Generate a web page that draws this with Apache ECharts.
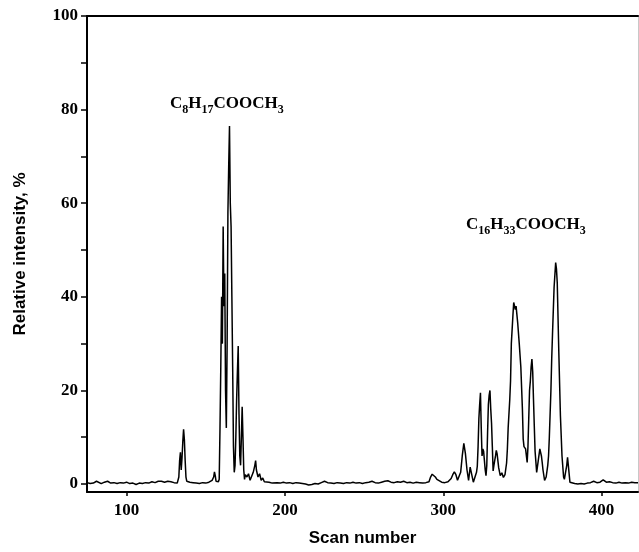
<!DOCTYPE html>
<html>
<head>
<meta charset="utf-8">
<script src="https://cdn.jsdelivr.net/npm/echarts@6/dist/echarts.min.js"></script>
<style>
  html, body { margin: 0; padding: 0; background: #fff; }
  #container { width: 639px; height: 552px; }
</style>
</head>
<body>
<div id="container"></div>
<script>
// scan numbers and relative intensity (%)
const scans = [
  75, 77, 79, 81, 82, 84, 86, 88, 90, 92, 94, 96, 98, 100, 102, 104, 106, 108, 110, 112,
  114, 116, 118, 120, 121, 122, 124, 126, 127, 128, 130, 131, 132,
  133, 133.5, 134, 134.5, 135, 135.5, 136, 136.5, 137, 137.5, 138, 139, 140, 141, 142, 144,
  146, 148, 150, 152, 153, 154, 155, 155.5, 156, 156.5, 157, 158, 158.5,
  159, 159.5, 160, 160.5, 161, 161.5, 162, 162.5, 163, 163.5, 164, 164.5, 165, 165.5, 166,
  166.5, 167, 167.5, 168, 168.5, 169, 169.5, 170, 170.5, 171, 171.5, 172, 172.5, 173, 173.5,
  174, 174.5, 175, 176, 177, 178, 179, 180, 181, 181.5, 182, 183, 184, 185, 186, 187, 188,
  190, 192, 193, 195, 197, 199, 201, 203, 205, 207, 209, 211, 213, 215, 217, 219, 221, 223,
  225, 227, 229, 231, 233, 235, 237, 239, 241, 243, 245, 247, 249, 251, 253, 255, 257, 259,
  261, 263, 265, 267, 269, 271, 273, 275, 277, 279, 281, 283, 285, 287, 289, 291, 292, 293,
  294, 295, 296, 297, 299, 301, 303, 305, 306, 307, 308, 309, 310, 311, 312, 313, 314, 315,
  316, 317, 318, 319, 320, 321, 321.5, 322, 322.5, 323, 323.5, 324, 324.5, 325, 325.5, 326,
  326.5, 327, 327.5, 328, 328.5, 329, 329.5, 330, 330.5, 331, 331.5, 332, 333, 333.5, 334,
  335, 336, 337, 338, 338.5, 339, 340, 340.5, 341, 342, 342.5, 343, 344, 344.5, 345, 345.5,
  346, 347, 348, 349, 350, 350.5, 351, 352, 353, 353.5, 354, 354.5, 355, 355.5, 356, 356.5,
  357, 357.5, 358, 359, 360, 361, 362, 362.5, 363, 364, 364.5, 365, 366, 366.5, 367, 368,
  368.5, 369, 370, 371, 371.5, 372, 373, 374, 375, 376, 376.5, 377, 378, 378.5, 379, 380,
  381, 383, 385, 387, 389, 391, 393, 395, 397, 399, 401, 403, 405, 407, 409, 411, 413, 415,
  417, 419, 421, 423
];
const intensity = [
  0.3, 0.1, 0.2, 0.6, 0.3, 0.1, 0.4, 0.6, 0.2, 0.3, 0.1, 0.3, 0.2, 0.4, 0.1, 0.2, -0.1, 0.2, 0.1, 0.3,
  0.2, 0.5, 0.3, 0.6, 0.3, 0.6, 0.4, 0.6, 0.3, 0.5, 0.3, 0.4, 0.2,
  1.5, 5.0, 6.8, 3.0, 5.5, 9.0, 11.7, 9.5, 5.0, 1.5, 0.6, 0.3, 0.4, 0.8, 0.3, 0.2,
  0.1, 0.3, 0.2, 0.4, 0.3, 0.8, 1.5, 2.6, 1.8, 0.6, 0.4, 0.5, 1.0,
  12, 25, 40, 30, 55, 38, 45, 20, 12, 30, 58, 68, 76.5, 60, 55,
  40, 25, 8, 2.5, 4, 10, 18, 24, 29.5, 15, 6, 4, 10, 16.5, 10,
  3, 1, 2, 1.5, 2.2, 0.8, 1.2, 2.5, 4, 5, 3, 1.5, 2.2, 0.8, 1.3, 0.5, 0.3,
  0.4, 0.2, 0.5, 0.3, 0.2, 0.4, 0.2, 0.3, 0.1, 0.3, 0.2, 0.1, 0.0, -0.2, -0.1, 0.1, 0.0, 0.3,
  0.6, 0.3, 0.2, 0.1, 0.3, 0.2, 0.1, 0.3, 0.2, 0.4, 0.2, 0.3, 0.1, 0.3, 0.4, 0.6, 0.3, 0.2,
  0.4, 0.6, 0.7, 0.4, 0.3, 0.5, 0.4, 0.6, 0.3, 0.4, 0.2, 0.4, 0.3, 0.2, 0.3, 0.5, 1.5, 2.1,
  1.8, 1.5, 1.0, 0.6, 0.4, 0.3, 0.5, 1.2, 2.0, 2.6, 2.0, 0.8, 0.6, 2.5, 6.0, 8.7, 6.5, 3.0,
  0.8, 3.6, 2.0, 0.4, 0.6, 2.5, 3.8, 8, 14, 17, 19.5, 12, 6, 7.5, 7.0, 5,
  3, 1.8, 4, 11, 17, 19, 20, 16, 13, 8, 2.8, 4, 6, 7.2, 6.5,
  3.5, 1.8, 2.4, 1.4, 1.2, 2, 4.5, 7.5, 12, 18, 22, 30, 36, 38.8, 38.5, 37.3,
  38, 34.5, 30, 25, 16, 9.6, 8, 7.5, 4.6, 8, 14, 20, 22, 25, 26.7, 24,
  18, 12.4, 7, 2.5, 5, 7.5, 6, 4.6, 3, 0.8, 0.4, 1.5, 4, 6, 10, 20,
  26.7, 32, 42, 47.3, 46, 43, 28, 14.6, 6, 1.5, 1.0, 2, 4, 5.7, 4, 0.4,
  0.2, 0.1, 0.0, 0.1, 0.0, 0.2, 0.3, 0.6, 0.3, 0.4, 0.9, 0.4, 0.5, 0.3, 0.2, 0.4, 0.2, 0.3,
  0.2, 0.4, 0.3, 0.3
];
const xTicks = [100, 200, 300, 400];
const yMinorTicks = [0, 10, 20, 30, 40, 50, 60, 70, 80, 90, 100];
const yLabels = [0, 20, 40, 60, 80, 100];

const serif = '"Liberation Serif", "Times New Roman", serif';
const sans = '"Liberation Sans", Arial, sans-serif';

const chart = echarts.init(document.getElementById('container'));

const tickFont = {
  color: '#000',
  fontFamily: serif,
  fontWeight: 'bold',
  fontSize: 17
};

const formula = (parts) => parts.map(p => typeof p === 'string' ? '{m|' + p + '}' : '{s|' + p[0] + '}').join('');
const formulaRich = {
  m: { fontFamily: serif, fontWeight: 'bold', fontSize: 17, lineHeight: 17, verticalAlign: 'top', fill: '#000' },
  s: { fontFamily: serif, fontWeight: 'bold', fontSize: 12, lineHeight: 12, verticalAlign: 'top', padding: [9, 0, 0, 0], fill: '#000' }
};

const option = {
  animation: false,
  grid: { left: 87, right: 1, top: 16, bottom: 56 },
  xAxis: [{
    type: 'value',
    min: 75,
    max: 423,
    name: 'Scan number',
    nameLocation: 'middle',
    nameGap: 38,
    nameTextStyle: { color: '#000', fontFamily: sans, fontWeight: 'bold', fontSize: 17 },
    axisLine: { onZero: false, lineStyle: { color: '#000', width: 2 } },
    axisTick: { customValues: xTicks, length: 4, lineStyle: { color: '#000', width: 1.5 } },
    axisLabel: { customValues: xTicks, margin: 10, ...tickFont },
    splitLine: { show: false }
  }, {
    type: 'value',
    position: 'top',
    min: 75,
    max: 423,
    axisLine: { show: true, onZero: false, lineStyle: { color: '#000', width: 2 } },
    axisTick: { show: false },
    axisLabel: { show: false },
    splitLine: { show: false }
  }],
  yAxis: [{
    type: 'value',
    min: -1.7,
    max: 100,
    name: 'Relative intensity, %',
    nameLocation: 'middle',
    nameGap: 58,
    nameTextStyle: { color: '#000', fontFamily: sans, fontWeight: 'bold', fontSize: 17 },
    axisLine: { show: true, onZero: false, lineStyle: { color: '#000', width: 2 } },
    axisTick: { customValues: yMinorTicks, length: 6, lineStyle: { color: '#000', width: 1.5 } },
    axisLabel: { customValues: yLabels, margin: 9, ...tickFont },
    splitLine: { show: false }
  }, {
    type: 'value',
    position: 'right',
    min: -1.7,
    max: 100,
    axisLine: { show: true, onZero: false, lineStyle: { color: '#c8c8c8', width: 1 } },
    axisTick: { show: false },
    axisLabel: { show: false },
    splitLine: { show: false }
  }],
  graphic: [
    {
      type: 'text',
      left: 170,
      top: 95,
      style: { text: formula(['C', ['8'], 'H', ['17'], 'COOCH', ['3']]), rich: formulaRich }
    },
    {
      type: 'text',
      left: 466,
      top: 216,
      style: { text: formula(['C', ['16'], 'H', ['33'], 'COOCH', ['3']]), rich: formulaRich }
    }
  ],
  series: [{
    type: 'line',
    data: scans.map((s, i) => [s, intensity[i]]),
    showSymbol: false,
    smooth: false,
    lineStyle: { color: '#000', width: 1.5 },
    clip: true
  }]
};

chart.setOption(option);
</script>
</body>
</html>
